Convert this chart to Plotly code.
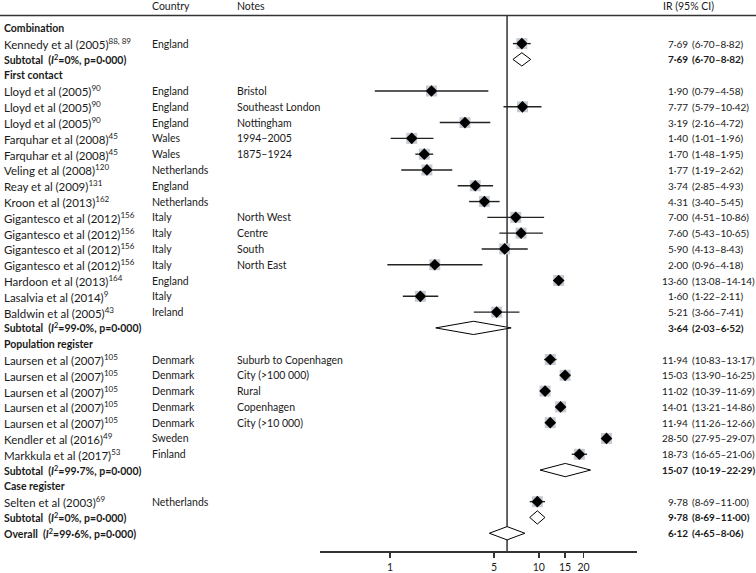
import math
import plotly.graph_objects as go

# ---------------- data ----------------
group_names = ["Combination", "First contact", "Population register", "Case register"]

study_names = [
    "Kennedy et al (2005)",
    "Lloyd et al (2005)", "Lloyd et al (2005)", "Lloyd et al (2005)",
    "Farquhar et al (2008)", "Farquhar et al (2008)",
    "Veling et al (2008)", "Reay et al (2009)", "Kroon et al (2013)",
    "Gigantesco et al (2012)", "Gigantesco et al (2012)", "Gigantesco et al (2012)", "Gigantesco et al (2012)",
    "Hardoon et al (2013)", "Lasalvia et al (2014)", "Baldwin et al (2005)",
    "Laursen et al (2007)", "Laursen et al (2007)", "Laursen et al (2007)", "Laursen et al (2007)", "Laursen et al (2007)",
    "Kendler et al (2016)", "Markkula et al (2017)",
    "Selten et al (2003)",
]
study_refs = [
    "88, 89",
    "90", "90", "90",
    "45", "45",
    "120", "131", "162",
    "156", "156", "156", "156",
    "164", "9", "43",
    "105", "105", "105", "105", "105",
    "49", "53",
    "69",
]
study_group = [0] + [1] * 15 + [2] * 7 + [3]
countries = [
    "England",
    "England", "England", "England",
    "Wales", "Wales",
    "Netherlands", "England", "Netherlands",
    "Italy", "Italy", "Italy", "Italy",
    "England", "Italy", "Ireland",
    "Denmark", "Denmark", "Denmark", "Denmark", "Denmark",
    "Sweden", "Finland",
    "Netherlands",
]
notes = [
    "",
    "Bristol", "Southeast London", "Nottingham",
    "1994–2005", "1875–1924",
    "", "", "",
    "North West", "Centre", "South", "North East",
    "", "", "",
    "Suburb to Copenhagen", "City (>100 000)", "Rural", "Copenhagen", "City (>10 000)",
    "", "",
    "",
]
ir = [7.69, 1.90, 7.77, 3.19, 1.40, 1.70, 1.77, 3.74, 4.31, 7.00, 7.60, 5.90, 2.00,
      13.60, 1.60, 5.21, 11.94, 15.03, 11.02, 14.01, 11.94, 28.50, 18.73, 9.78]
ci_lo = [6.70, 0.79, 5.79, 2.16, 1.01, 1.48, 1.19, 2.85, 3.40, 4.51, 5.43, 4.13, 0.96,
         13.08, 1.22, 3.66, 10.83, 13.90, 10.39, 13.21, 11.26, 27.95, 16.65, 8.69]
ci_hi = [8.82, 4.58, 10.42, 4.72, 1.96, 1.95, 2.62, 4.93, 5.45, 10.86, 10.65, 8.43, 4.18,
         14.14, 2.11, 7.41, 13.17, 16.25, 11.69, 14.86, 12.66, 29.07, 21.06, 11.00]

subtotal_i2 = ["0%", "99·0%", "99·7%", "0%"]
subtotal_ir = [7.69, 3.64, 15.07, 9.78]
subtotal_lo = [6.70, 2.03, 10.19, 8.69]
subtotal_hi = [8.82, 6.52, 22.29, 11.00]

overall_i2 = "99·6%"
overall_ir = 6.12
overall_lo = 4.65
overall_hi = 8.06

tick_values = [1, 5, 10, 15, 20]

# ---------------- layout constants (screen pixels) ----------------
W, H = 756, 573
ROW0_PX = 28.0
ROW_STEP = 15.906
AXIS_PX = 555.3
HEADER_PX = 6.5
HLINE_PX = 15.7
X1_PX = 390.0
PX_PER_DEC = 148.8
AX_LEFT_PX, AX_RIGHT_PX = 320.0, 637.0

FONT = "Lato"
FS = 10.5          # general text
FS_STUDY = 11.5    # study-name column
FS_IR = 10         # IR (95% CI) column
TXT = "#1a1a1a"
LINE = "#222222"
BOX = "#c6cbd3"


def px2row(p):
    return (p - ROW0_PX) / ROW_STEP


def px2paper(p):
    return p / W


def fmt(v):
    return f"{v:.2f}".replace(".", "·")


annotations = []


def add_text(px, row, text, anchor="left", bold=False, size=FS):
    if bold:
        text = f"<b>{text}</b>"
    annotations.append(dict(
        xref="paper", yref="y", x=px2paper(px), y=row, text=text, showarrow=False,
        xanchor=anchor, yanchor="middle", font=dict(family=FONT, size=size, color=TXT),
        borderpad=0,
    ))


STUDY_X, COUNTRY_X, NOTES_X = 3, 151, 236
EST_RIGHT_X, CI_LEFT_X = 689, 691

# headers
hr = px2row(HEADER_PX)
add_text(COUNTRY_X, hr, "Country")
add_text(NOTES_X, hr, "Notes")
add_text(662, hr, "IR (95% CI)")

# build rows
row = 0
pt_rows, pt_x, pt_lo, pt_hi = [], [], [], []
summary_rows = []
for g, gname in enumerate(group_names):
    add_text(STUDY_X, row, gname, bold=True)
    row += 1
    for i in range(len(study_names)):
        if study_group[i] != g:
            continue
        add_text(STUDY_X, row, f"{study_names[i]}<sup>{study_refs[i]}</sup>", size=FS_STUDY)
        add_text(COUNTRY_X, row, countries[i])
        if notes[i]:
            add_text(NOTES_X, row, notes[i])
        add_text(EST_RIGHT_X, row, fmt(ir[i]), anchor="right", size=FS_IR)
        add_text(CI_LEFT_X, row, f"({fmt(ci_lo[i])}–{fmt(ci_hi[i])})", size=FS_IR)
        pt_rows.append(row)
        pt_x.append(ir[i])
        pt_lo.append(ci_lo[i])
        pt_hi.append(ci_hi[i])
        row += 1
    add_text(STUDY_X, row, f"Subtotal  (<i>I</i><sup>2</sup>={subtotal_i2[g]}, p=0·000)", bold=True)
    add_text(EST_RIGHT_X, row, fmt(subtotal_ir[g]), anchor="right", bold=True, size=FS_IR)
    add_text(CI_LEFT_X, row, f"({fmt(subtotal_lo[g])}–{fmt(subtotal_hi[g])})", bold=True, size=FS_IR)
    summary_rows.append((row, subtotal_ir[g], subtotal_lo[g], subtotal_hi[g]))
    row += 1

add_text(STUDY_X, row, f"Overall  (<i>I</i><sup>2</sup>={overall_i2}, p=0·000)", bold=True)
add_text(EST_RIGHT_X, row, fmt(overall_ir), anchor="right", bold=True, size=FS_IR)
add_text(CI_LEFT_X, row, f"({fmt(overall_lo)}–{fmt(overall_hi)})", bold=True, size=FS_IR)
summary_rows.append((row, overall_ir, overall_lo, overall_hi))

fig = go.Figure()

# CI lines
lx, ly = [], []
for r, lo, hi in zip(pt_rows, pt_lo, pt_hi):
    lx += [lo, hi, None]
    ly += [r, r, None]
fig.add_trace(go.Scatter(x=lx, y=ly, mode="lines", line=dict(color=LINE, width=1.4),
                         hoverinfo="skip", showlegend=False))
# weight boxes
fig.add_trace(go.Scatter(x=pt_x, y=pt_rows, mode="markers",
                         marker=dict(symbol="square", size=11, color=BOX, line=dict(width=0)),
                         hoverinfo="skip", showlegend=False))
# point diamonds
fig.add_trace(go.Scatter(x=pt_x, y=pt_rows, mode="markers",
                         marker=dict(symbol="diamond", size=9, color="black", line=dict(width=0)),
                         hoverinfo="skip", showlegend=False))
# summary diamonds
HALF_H = 0.42
for r, e, lo, hi in summary_rows:
    fig.add_trace(go.Scatter(x=[lo, e, hi, e, lo], y=[r, r - HALF_H, r, r + HALF_H, r],
                             mode="lines", fill="toself", fillcolor="white",
                             line=dict(color="black", width=1), hoverinfo="skip", showlegend=False))

shapes = [
    dict(type="line", xref="paper", yref="y", x0=0, x1=1, y0=px2row(HLINE_PX), y1=px2row(HLINE_PX),
         line=dict(color="#333333", width=1.5)),
    dict(type="line", xref="x", yref="y", x0=overall_ir, x1=overall_ir,
         y0=px2row(HLINE_PX), y1=px2row(AXIS_PX), line=dict(color="#333333", width=1.5), layer="below"),
]

xr = [(AX_LEFT_PX - X1_PX) / PX_PER_DEC, (AX_RIGHT_PX - X1_PX) / PX_PER_DEC]

fig.update_layout(
    width=W, height=H, autosize=False,
    margin=dict(l=0, r=0, t=0, b=0, pad=0),
    paper_bgcolor="white", plot_bgcolor="white",
    showlegend=False,
    hovermode=False,
    annotations=annotations,
    shapes=shapes,
    xaxis=dict(type="log", range=xr, domain=[px2paper(AX_LEFT_PX), px2paper(AX_RIGHT_PX)],
               anchor="free", position=1 - AXIS_PX / H,
               showline=True, linecolor="#333333", linewidth=1.5,
               ticks="outside", ticklen=5, tickwidth=1.5, tickcolor="#333333",
               tickvals=tick_values, ticktext=[str(t) for t in tick_values],
               tickfont=dict(family=FONT, size=10.5, color=TXT),
               showgrid=False, zeroline=False, fixedrange=True),
    yaxis=dict(range=[px2row(H), px2row(0)], domain=[0, 1], visible=False,
               showgrid=False, zeroline=False, fixedrange=True),
)

# remove the default page margin so the figure sits at the window's top-left corner
fig.write_html(
    "out.html",
    config={"displayModeBar": False, "staticPlot": True},
    post_script="document.body.style.margin='0';document.body.style.padding='0';"
                "document.body.style.overflow='hidden';",
)
